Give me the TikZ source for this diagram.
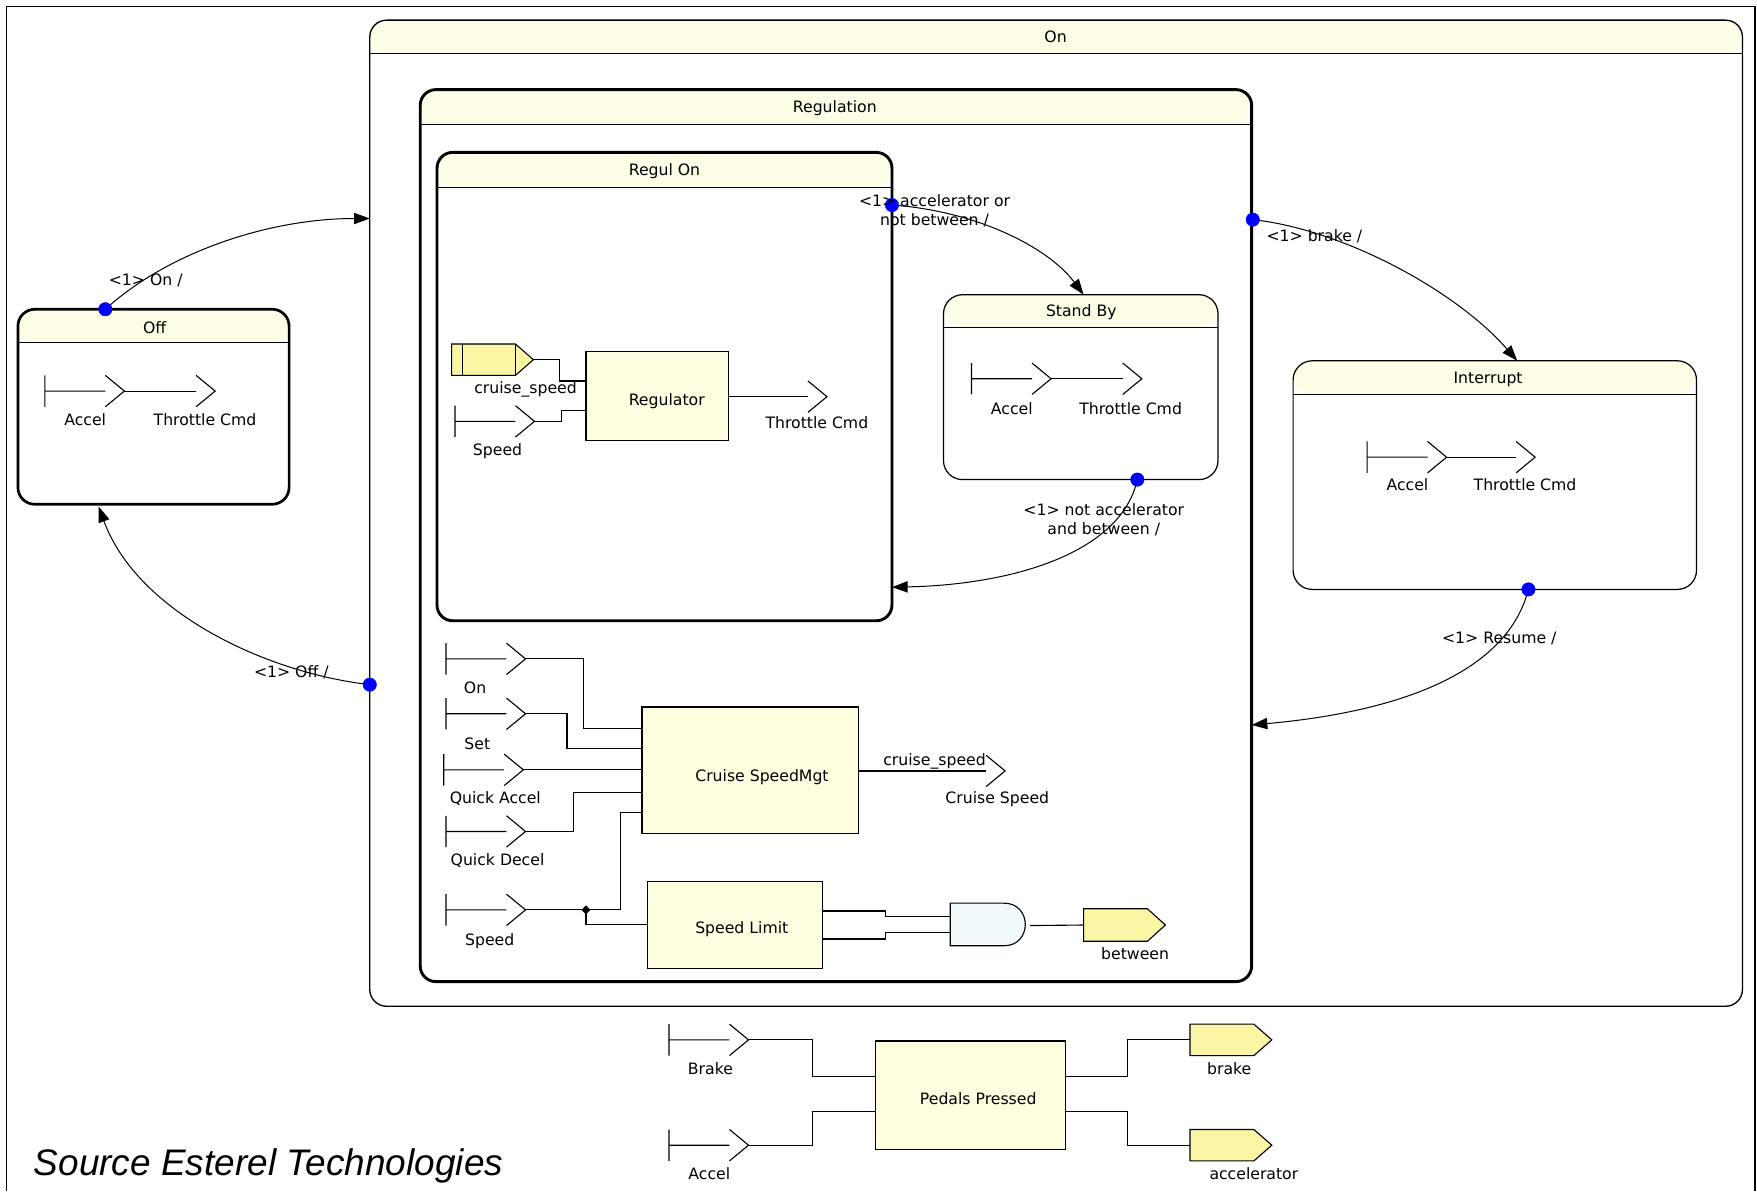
\documentclass[tikz,border=0pt]{standalone}
\usepackage{fontspec}
\setmainfont{DejaVu Sans}
\newfontfamily\srcfont{Liberation Sans}
\usetikzlibrary{arrows.meta}
\definecolor{hdr}{HTML}{FEFDE6}
\definecolor{blk}{HTML}{FFFEE0}
\definecolor{sens}{HTML}{FBF6A6}
\definecolor{gatefill}{HTML}{F2FAFD}
\definecolor{tblue}{HTML}{0000FF}
\tikzset{
  txt/.style={font=\fontsize{14}{17}\selectfont, inner sep=0pt, align=center, text height=14pt, text depth=3pt},
  wire/.style={line width=1pt, draw=black},
  trans/.style={line width=0.9pt, draw=black, -{Triangle[length=14pt,width=10pt]}},
  tdot/.style={circle, fill=tblue, draw=tblue, inner sep=0pt, minimum size=12pt},
  block/.style={draw=black, line width=1.1pt, fill=blk, inner sep=0pt},
}
% state: name, x1, y1, x2, y2, header height, radius, line width
\newcommand{\mkstate}[8]{%
  \node[draw=black, line width=#8, fill=white, rounded corners=#7pt, inner sep=0pt, outer sep=0pt,
    minimum width={(#4-#2)*1pt}, minimum height={(#5-#3)*1pt},
    path picture={\fill[hdr] ([yshift=2pt]path picture bounding box.north west) rectangle ([yshift=-#6pt]path picture bounding box.north east);
      \draw[line width=1pt] ([yshift=-#6pt]path picture bounding box.north west) -- ([yshift=-#6pt]path picture bounding box.north east);}]
    (#1) at ({(#2+#4)/2},{(#3+#5)/2}) {};}
% input signal: name, x of bar, y
\newcommand{\insig}[3]{%
  \draw[wire] (#2,#3-14) -- (#2,#3+14) (#2,#3) -- (#2+54,#3) (#2+54,#3-14) -- (#2+71,#3) -- (#2+54,#3+14);
  \coordinate (#1) at (#2+71,#3);}
% output signal: name, x of vertex, y
\newcommand{\outsig}[3]{%
  \draw[wire] (#2-17,#3-14) -- (#2,#3) -- (#2-17,#3+14);
  \coordinate (#1) at (#2-17,#3);}
% sensor: name, x1, y1, xtip, y2
\newcommand{\sensor}[5]{%
  \draw[line width=1pt, fill=sens] (#2,#3) -- (#4-16,#3) -- (#4,{(#3+#5)/2}) -- (#4-16,#5) -- (#2,#5) -- cycle;
  \coordinate (#1) at (#2,{(#3+#5)/2});
  \coordinate (#1-tip) at (#4,{(#3+#5)/2});}
\begin{document}
\begin{tikzpicture}[x=1pt,y=-1pt]
\useasboundingbox (0,0) rectangle (1568,1063);
\draw[line width=1.3pt] (6,1063) -- (6,6) -- (1566,6) -- (1566,1063);

% ---- states
\mkstate{on}{330}{18}{1555}{898}{29.5}{15}{1.2pt}
\mkstate{reg}{375}{80}{1117}{876}{31}{14}{2.6pt}
\mkstate{regon}{390}{136}{796}{554}{31}{14}{2.6pt}
\mkstate{stby}{842}{263}{1087}{428}{29}{17}{1.1pt}
\mkstate{intr}{1154}{322}{1514}{526}{30}{17}{1.1pt}
\mkstate{off}{16}{276}{258}{450}{30}{15}{2.4pt}

\node[txt] (onT) at (942,32) {On};
\node[txt] (regT) at (745,95) {Regulation};
\node[txt] (regonT) at (593,151) {Regul On};
\node[txt] (stbyT) at (965,277) {Stand By};
\node[txt] (intrT) at (1328,337) {Interrupt};
\node[txt] (offT) at (138,292) {Off};

% ---- Off contents
\insig{offA}{40}{349}
\outsig{offO}{192}{349}
\draw[wire] (offA) -- (offO);
\node[txt] (offLA) at (76,374) {Accel};
\node[txt] (offLT) at (183,374) {Throttle Cmd};

% ---- StandBy contents
\insig{sbA}{867}{338}
\outsig{sbO}{1019}{338}
\draw[wire] (sbA) -- (sbO);
\node[txt] (sbLA) at (903,364) {Accel};
\node[txt] (sbLT) at (1009,364) {Throttle Cmd};

% ---- Interrupt contents
\insig{inA}{1220}{408}
\outsig{inO}{1370}{408}
\draw[wire] (inA) -- (inO);
\node[txt] (inLA) at (1256,432) {Accel};
\node[txt] (inLT) at (1361,432) {Throttle Cmd};

% ---- RegulOn contents
\sensor{sCS}{403}{307}{476}{335}
\draw[wire] (413,307) -- (413,335) (460,307) -- (460,335);
\node[txt] (lcs) at (469,346) {cruise\_speed};
\node[block, minimum width=127pt, minimum height=79pt] (rgl) at (586.5,353.5) {};
\node[txt] (rglT) at (595,356) {Regulator};
\draw[wire] (sCS-tip) -- (499,321) -- (499,340) -- (rgl.west |- 0,340);
\insig{iSpd}{406}{376}
\node[txt] (lSpd) at (444,401) {Speed};
\draw[wire] (iSpd) -- (501,376) -- (501,366) -- (rgl.west |- 0,366);
\outsig{oTC}{738}{354}
\draw[wire] (rgl.east |- 0,354) -- (oTC);
\node[txt] (lTC) at (729,377) {Throttle Cmd};

% ---- lower Regulation contents
\insig{iOn}{398}{588}
\node[txt] (lOn) at (424,613) {On};
\insig{iSet}{398}{637}
\node[txt] (lSet) at (426,663) {Set};
\insig{iQA}{396}{687}
\node[txt] (lQA) at (442,712) {Quick Accel};
\insig{iQD}{398}{742}
\node[txt] (lQD) at (444,767) {Quick Decel};
\insig{iSp}{398}{812}
\node[txt] (lSp) at (437,838) {Speed};

\node[block, minimum width=193pt, minimum height=113pt] (csm) at (669.5,687.5) {};
\node[txt] (csmT) at (680,692) {Cruise SpeedMgt};
\draw[wire] (iOn) -- (521,588) -- (521,650) -- (csm.west |- 0,650);
\draw[wire] (iSet) -- (506,637) -- (506,668) -- (csm.west |- 0,668);
\draw[wire] (iQA) -- (csm.west |- 0,687);
\draw[wire] (iQD) -- (512,742) -- (512,707) -- (csm.west |- 0,707);
\coordinate (jn) at (523,812);
\node[block, minimum width=156pt, minimum height=77pt] (sl) at (656,825.5) {};
\node[txt] (slT) at (662,828) {Speed Limit};
\draw[wire] (iSp) -- (jn) -- (554,812) -- (554,725) -- (csm.west |- 0,725);
\draw[wire] (jn) -- (523,825) -- (sl.west |- 0,825);
\fill (jn) +(-4,0) -- +(0,-4) -- +(4,0) -- +(0,4) -- cycle;

\outsig{oCS}{897}{688}
\draw[wire] (csm.east |- 0,688) -- (oCS);
\node[txt] (lcs2) at (834,678) {cruise\_speed};
\node[txt] (lCS) at (890,712) {Cruise Speed};

% AND gate
\draw[line width=1pt, fill=gatefill] (848,806) -- (896,806) .. controls (921.3,806) and (921.3,844) .. (896,844) -- (848,844) -- cycle;
\coordinate (gIn1) at (848,818);
\coordinate (gIn2) at (848,832);
\coordinate (gOut) at (919,826);
\draw[wire] (sl.east |- 0,813) -- (790,813) -- (790,818) -- (gIn1);
\draw[wire] (sl.east |- 0,838) -- (790,838) -- (790,832) -- (gIn2);
\sensor{sBt}{967}{811}{1040}{840}
\draw[wire] (gOut) -- (sBt);
\node[txt] (lBt) at (1013,851) {between};

% ---- PedalsPressed
\insig{iBr}{597}{928}
\node[txt] (lBr) at (634,953) {Brake};
\insig{iAc}{597}{1022}
\node[txt] (lAc) at (633,1047) {Accel};
\node[block, minimum width=170pt, minimum height=97pt] (pp) at (866,977.5) {};
\node[txt] (ppT) at (873,980) {Pedals Pressed};
\draw[wire] (iBr) -- (725,928) -- (725,961) -- (pp.west |- 0,961);
\draw[wire] (iAc) -- (725,1022) -- (725,992) -- (pp.west |- 0,992);
\sensor{sBr}{1062}{914}{1135}{942}
\node[txt] (lbr) at (1097,953) {brake};
\sensor{sAc}{1062}{1008}{1135}{1036}
\node[txt] (lacc) at (1119,1047) {accelerator};
\draw[wire] (pp.east |- 0,961) -- (1006,961) -- (1006,928) -- (sBr);
\draw[wire] (pp.east |- 0,992) -- (1006,992) -- (1006,1022) -- (sAc);

% ---- transitions
\coordinate (d1) at (94,276);   \coordinate (a1) at (330,195);
\coordinate (d2) at (330,611);  \coordinate (a2) at (88,452);
\coordinate (d3) at (796,183);  \coordinate (a3) at (967,263);
\coordinate (d4) at (1015,428); \coordinate (a4) at (796,524);
\coordinate (d5) at (1118,196); \coordinate (a5) at (1354,322);
\coordinate (d6) at (1364,526); \coordinate (a6) at (1117,647);
\draw[trans] (d1) .. controls (150,225) and (240,195) .. (a1);
\draw[trans] (d2) .. controls (235,600) and (122,545) .. (a2);
\draw[trans] (d3) .. controls (870,188) and (935,220) .. (a3);
\draw[trans] (d4) .. controls (1000,495) and (900,522) .. (a4);
\draw[trans] (d5) .. controls (1200,205) and (1300,260) .. (a5);
\draw[trans] (d6) .. controls (1345,600) and (1250,635) .. (a6);
\node[tdot] (d1n) at (d1) {};
\node[tdot] (d2n) at (d2) {};
\node[tdot] (d3n) at (d3) {};
\node[tdot] (d4n) at (d4) {};
\node[tdot] (d5n) at (d5) {};
\node[tdot] (d6n) at (d6) {};
\node[txt] (t1) at (130,249) {<1> On /};
\node[txt] (t2) at (260,599) {<1> Off /};
\node[txt, text height=, text depth=] (t3) at (834,188) {<1> accelerator or\\not between /};
\node[txt, text height=, text depth=] (t4) at (985,464) {<1> not accelerator\\and between /};
\node[txt] (t5) at (1173,210) {<1> brake /};
\node[txt] (t6) at (1338,569) {<1> Resume /};

% ---- source
\node[anchor=base west, inner sep=0pt, font=\srcfont\itshape\fontsize{33}{38}\selectfont] (src) at (30,1049) {Source Esterel Technologies};
\end{tikzpicture}
\end{document}
